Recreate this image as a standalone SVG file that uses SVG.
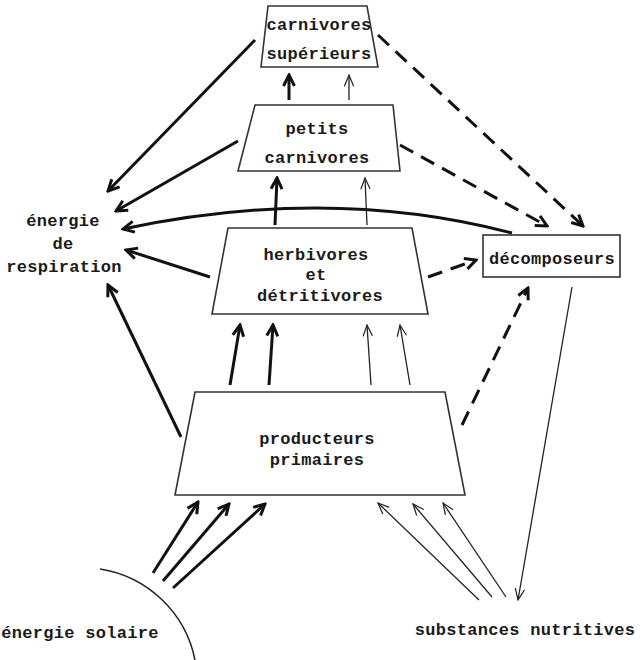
<svg xmlns="http://www.w3.org/2000/svg" width="640" height="660" viewBox="0 0 640 660">
<style>
text{font-family:"Liberation Mono","DejaVu Sans Mono",monospace;font-weight:bold;font-size:17px;fill:#1a1a1a;text-anchor:middle;letter-spacing:0.3px}
.box{fill:#fff;stroke:#333;stroke-width:1.6}
.th{fill:none;stroke:#111;stroke-width:3}
.tn{fill:none;stroke:#222;stroke-width:1.3}
.da{fill:none;stroke:#111;stroke-width:3;stroke-dasharray:15 9}
</style>
<defs>
<marker id="ah" viewBox="0 0 14 14" refX="12" refY="7" markerWidth="14" markerHeight="14" markerUnits="userSpaceOnUse" orient="auto">
<path d="M1,1.5 L12,7 L1,12.5" fill="none" stroke="#111" stroke-width="3" stroke-linejoin="miter"/>
</marker>
<marker id="ahn" viewBox="0 0 14 14" refX="13" refY="7" markerWidth="13" markerHeight="13" markerUnits="userSpaceOnUse" orient="auto">
<path d="M1,2 L13,7 L1,12" fill="none" stroke="#222" stroke-width="1.3"/>
</marker>
</defs>
<rect width="640" height="660" fill="#fff"/>
<g id="connectors">
<line class="th" x1="255" y1="40" x2="108" y2="191" marker-end="url(#ah)"/>
<line class="th" x1="238" y1="141" x2="116" y2="211" marker-end="url(#ah)"/>
<path class="th" d="M512,233 Q330,185 123,229" marker-end="url(#ah)"/>
<line class="th" x1="210" y1="277" x2="126" y2="250" marker-end="url(#ah)"/>
<line class="th" x1="181" y1="437" x2="108" y2="285" marker-end="url(#ah)"/>
<line class="th" x1="289" y1="100" x2="289" y2="75" marker-end="url(#ah)"/>
<line class="tn" x1="349" y1="100" x2="349" y2="75" marker-end="url(#ahn)"/>
<line class="th" x1="275" y1="225" x2="277" y2="178" marker-end="url(#ah)"/>
<line class="tn" x1="367" y1="225" x2="365" y2="178" marker-end="url(#ahn)"/>
<line class="th" x1="230" y1="385" x2="240" y2="325" marker-end="url(#ah)"/>
<line class="th" x1="269" y1="385" x2="273" y2="325" marker-end="url(#ah)"/>
<line class="tn" x1="371" y1="385" x2="367" y2="325" marker-end="url(#ahn)"/>
<line class="tn" x1="410" y1="385" x2="400" y2="325" marker-end="url(#ahn)"/>
<line class="da" x1="378" y1="35" x2="583" y2="226" marker-end="url(#ah)"/>
<line class="da" x1="400" y1="145" x2="547" y2="226" marker-end="url(#ah)"/>
<line class="da" x1="428" y1="277" x2="476" y2="260" marker-end="url(#ah)"/>
<line class="da" x1="462" y1="425" x2="528" y2="288" marker-end="url(#ah)"/>
<line class="tn" x1="572" y1="287" x2="518" y2="600" marker-end="url(#ahn)"/>
<line class="tn" x1="479" y1="600" x2="378" y2="503" marker-end="url(#ahn)"/>
<line class="tn" x1="492" y1="597" x2="413" y2="504" marker-end="url(#ahn)"/>
<line class="tn" x1="506" y1="597" x2="443" y2="503" marker-end="url(#ahn)"/>
<line class="th" x1="153" y1="573" x2="198" y2="502" marker-end="url(#ah)"/>
<line class="th" x1="163" y1="581" x2="229" y2="504" marker-end="url(#ah)"/>
<line class="th" x1="173" y1="588" x2="265" y2="504" marker-end="url(#ah)"/>
</g>
<g id="carnivores-superieurs">
<path class="box" d="M268,6 L367,6 L378,67 L261,67 Z"/>
<text x="319" y="30">carnivores</text>
<text x="319" y="59">supérieurs</text>
</g>
<g id="petits-carnivores">
<path class="box" d="M255,105 L393,105 L400,171 L238,171 Z"/>
<text x="317" y="134">petits</text>
<text x="317" y="163">carnivores</text>
</g>
<g id="herbivores">
<path class="box" d="M228,228 L412,228 L428,314 L212,314 Z"/>
<text x="316" y="260">herbivores</text>
<text x="316" y="280">et</text>
<text x="320" y="301">détritivores</text>
</g>
<g id="producteurs">
<path class="box" d="M195,392 L445,392 L465,495 L175,495 Z"/>
<text x="317" y="444">producteurs</text>
<text x="317" y="465">primaires</text>
</g>
<g id="decomposeurs">
<rect class="box" x="483" y="235" width="137" height="42"/>
<text x="552" y="264">décomposeurs</text>
</g>
<g id="respiration">
<text x="63" y="226">énergie</text>
<text x="63" y="249">de</text>
<text x="64" y="272">respiration</text>
</g>
<g id="solaire">
<path d="M100,569 A115,115 0 0 1 195,660" fill="none" stroke="#222" stroke-width="1.5"/>
<text x="80" y="638">énergie solaire</text>
</g>
<g id="nutritives">
<text x="525" y="635">substances nutritives</text>
</g>
</svg>
